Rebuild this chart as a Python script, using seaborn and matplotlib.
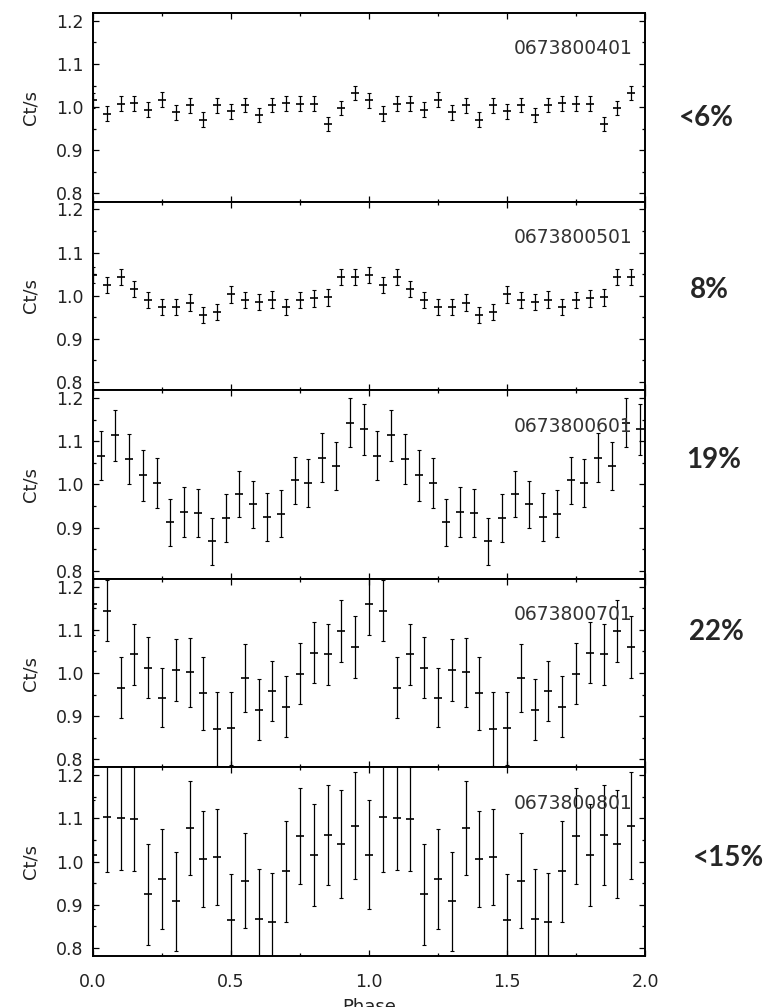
import numpy as np
import pandas as pd
import seaborn as sns
import matplotlib.pyplot as plt
from matplotlib.ticker import MultipleLocator, FormatStrFormatter

# phase bins of one cycle (plotted twice)
phase = [0.00, 0.05, 0.10, 0.15, 0.20, 0.25, 0.30, 0.35, 0.40, 0.45,
         0.50, 0.55, 0.60, 0.65, 0.70, 0.75, 0.80, 0.85, 0.90, 0.95]
phase_601 = [0.03, 0.08, 0.13, 0.18, 0.23, 0.28, 0.33, 0.38, 0.43, 0.48,
             0.53, 0.58, 0.63, 0.68, 0.73, 0.78, 0.83, 0.88, 0.93, 0.98]

obs_ids = ['0673800401', '0673800501', '0673800601', '0673800701', '0673800801']
pulsed_frac = ['<6%', '8%', '19%', '22%', '<15%']

rate_401 = [1.016, 0.985, 1.008, 1.009, 0.994, 1.017, 0.988, 1.004, 0.971, 1.004,
            0.990, 1.005, 0.982, 1.005, 1.009, 1.008, 1.008, 0.961, 0.998, 1.033]
err_401 = [0.017, 0.018, 0.017, 0.017, 0.017, 0.017, 0.017, 0.017, 0.017, 0.017,
           0.017, 0.017, 0.017, 0.017, 0.017, 0.017, 0.017, 0.017, 0.017, 0.017]

rate_501 = [1.048, 1.025, 1.044, 1.016, 0.990, 0.974, 0.974, 0.984, 0.956, 0.963,
            1.003, 0.990, 0.986, 0.991, 0.974, 0.990, 0.994, 0.996, 1.044, 1.044]
err_501 = [0.019, 0.019, 0.019, 0.019, 0.019, 0.019, 0.019, 0.019, 0.019, 0.019,
           0.019, 0.019, 0.019, 0.019, 0.019, 0.019, 0.019, 0.019, 0.019, 0.019]

rate_601 = [1.066, 1.114, 1.058, 1.021, 1.003, 0.912, 0.937, 0.934, 0.868, 0.922,
            0.977, 0.954, 0.924, 0.932, 1.009, 1.003, 1.062, 1.043, 1.143, 1.128]
err_601 = [0.057, 0.059, 0.058, 0.059, 0.057, 0.055, 0.058, 0.056, 0.054, 0.055,
           0.053, 0.054, 0.055, 0.054, 0.055, 0.056, 0.057, 0.056, 0.057, 0.059]

rate_701 = [1.159, 1.144, 0.966, 1.043, 1.012, 0.943, 1.006, 1.002, 0.953, 0.870,
            0.872, 0.988, 0.915, 0.958, 0.922, 0.998, 1.047, 1.043, 1.097, 1.060]
err_701 = [0.071, 0.071, 0.071, 0.071, 0.071, 0.069, 0.072, 0.080, 0.085, 0.085,
           0.085, 0.078, 0.071, 0.070, 0.070, 0.071, 0.070, 0.071, 0.071, 0.072]

rate_801 = [1.016, 1.104, 1.101, 1.098, 0.924, 0.959, 0.908, 1.078, 1.006, 1.010,
            0.865, 0.956, 0.867, 0.860, 0.977, 1.059, 1.016, 1.062, 1.041, 1.083]
err_801 = [0.126, 0.129, 0.120, 0.121, 0.117, 0.116, 0.115, 0.109, 0.111, 0.111,
           0.107, 0.111, 0.116, 0.114, 0.116, 0.112, 0.118, 0.116, 0.125, 0.124]

phases = [phase, phase, phase_601, phase, phase]
rates = [rate_401, rate_501, rate_601, rate_701, rate_801]
errs = [err_401, err_501, err_601, err_701, err_801]

# long table, each light curve folded over two cycles
frames = []
for obs, ph, r, e in zip(obs_ids, phases, rates, errs):
    for cyc in (0, 1):
        frames.append(pd.DataFrame({'obs': obs, 'phase': np.array(ph) + cyc,
                                    'rate': r, 'err': e}))
df = pd.concat(frames, ignore_index=True)

sns.set_style('ticks')
plt.rcParams['font.family'] = ['DejaVu Sans']

fig = plt.figure(figsize=(7.67, 10.07), dpi=100)
gs = fig.add_gridspec(5, 1, left=0.1213, right=0.841, top=0.987, bottom=0.0506,
                      hspace=0)

# where the pulsed-fraction labels sit (figure fraction)
frac_xy = [(0.921, 0.883), (0.925, 0.712), (0.930, 0.543), (0.934, 0.372), (0.950, 0.148)]

for i, obs in enumerate(obs_ids):
    ax = fig.add_subplot(gs[i])
    sub = df[df['obs'] == obs]
    ax.errorbar(sub['phase'], sub['rate'], yerr=sub['err'], fmt='none',
                ecolor='black', elinewidth=0.9, capsize=1.3, capthick=0.8)
    sns.scatterplot(data=sub, x='phase', y='rate', marker='_', s=28,
                    color='black', linewidth=1.2, ax=ax, zorder=3)

    ax.set_xlim(0, 2)
    ax.set_ylim(0.781, 1.218)
    ax.xaxis.set_major_locator(MultipleLocator(0.5))
    ax.xaxis.set_minor_locator(MultipleLocator(0.25))
    ax.yaxis.set_major_locator(MultipleLocator(0.1))
    ax.yaxis.set_minor_locator(MultipleLocator(0.05))
    ax.yaxis.set_major_formatter(FormatStrFormatter('%.1f'))
    ax.xaxis.set_major_formatter(FormatStrFormatter('%.1f'))
    ax.tick_params(which='both', direction='in', top=True, right=True,
                   width=0.9, colors='black', labelcolor='#222222', labelsize=12.5)
    ax.tick_params(which='major', length=4)
    ax.tick_params(which='minor', length=2.5)
    ax.tick_params(axis='y', pad=7)
    ax.tick_params(axis='x', pad=12)
    for sp in ax.spines.values():
        sp.set_linewidth(1.4)
        sp.set_color('black')

    ax.set_ylabel('Ct/s', fontsize=13, color='#222222', labelpad=12)
    if i < 4:
        ax.tick_params(axis='x', labelbottom=False)
        ax.set_xlabel('')
    else:
        ax.set_xlabel('Phase', fontsize=13, color='#222222', labelpad=5)

    ax.text(0.978, 0.81, obs, transform=ax.transAxes, ha='right', va='center',
            fontsize=13.5, color='#333333')
    fig.text(frac_xy[i][0], frac_xy[i][1], pulsed_frac[i], ha='center', va='center',
             fontsize=20, fontweight='bold', family=['Lato', 'DejaVu Sans'])

fig.savefig('out.png', dpi=100)
